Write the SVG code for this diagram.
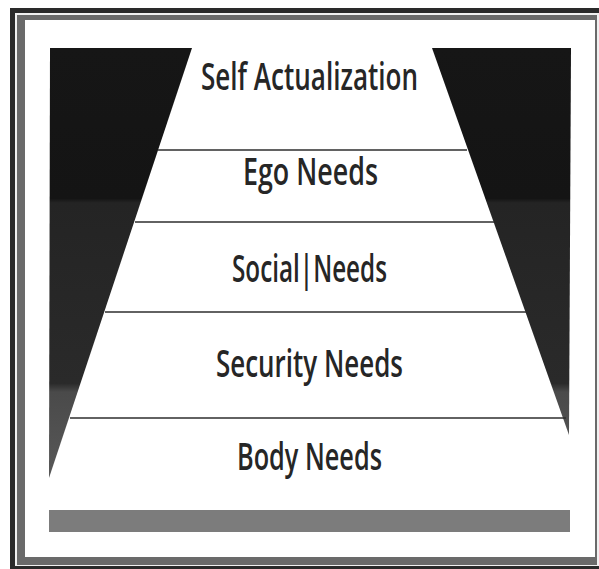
<svg xmlns="http://www.w3.org/2000/svg" width="599" height="569" viewBox="0 0 599 569">
  <style>
    .lbl { font-family: "Open Sans", "Liberation Sans", sans-serif; font-size: 37px; font-weight: 600; fill: #262626; text-anchor: start; }
    .sep { stroke: #2e2e2e; stroke-width: 1.6; fill: none; }
  </style>
  <defs>
    <linearGradient id="shade" gradientUnits="userSpaceOnUse" x1="0" y1="48" x2="0" y2="478">
      <stop offset="0" stop-color="#161616"/>
      <stop offset="0.35" stop-color="#141414"/>
      <stop offset="0.36" stop-color="#242424"/>
      <stop offset="0.78" stop-color="#2a2a2a"/>
      <stop offset="0.80" stop-color="#4a4a4a"/>
      <stop offset="1" stop-color="#585858"/>
    </linearGradient>
  </defs>
  <rect x="0" y="0" width="599" height="569" fill="#ffffff"/>
  <g id="frame">
    <rect x="10" y="8" width="589" height="561" fill="#2a2a2a"/>
    <rect x="15" y="13" width="584" height="553" fill="#f0f0f0"/>
    <rect x="17" y="15" width="580" height="550" fill="#6a6a6a"/>
    <rect x="25" y="20" width="570" height="537" fill="#ffffff"/>
  </g>
  <g id="side-shapes">
    <polygon points="50,48 192,48 49,478" fill="url(#shade)"/>
    <polygon points="432,48 571,48 569,435" fill="url(#shade)"/>
  </g>
  <g id="separators">
    <line class="sep" x1="158" y1="150" x2="467" y2="150"/>
    <line class="sep" x1="135" y1="222" x2="494" y2="222"/>
    <line class="sep" x1="105" y1="312" x2="526" y2="312"/>
    <line class="sep" x1="70" y1="418" x2="566" y2="418"/>
  </g>
  <g id="self-actualization">
    <text class="lbl" x="201" y="90" textLength="217" lengthAdjust="spacingAndGlyphs">Self Actualization</text>
  </g>
  <g id="ego-needs">
    <text class="lbl" x="243" y="185" textLength="135" lengthAdjust="spacingAndGlyphs">Ego Needs</text>
  </g>
  <g id="social-needs">
    <text class="lbl" x="232" y="282" textLength="155" lengthAdjust="spacingAndGlyphs">Social|Needs</text>
  </g>
  <g id="security-needs">
    <text class="lbl" x="216" y="377" textLength="187" lengthAdjust="spacingAndGlyphs">Security Needs</text>
  </g>
  <g id="body-needs">
    <text class="lbl" x="237" y="470" textLength="145" lengthAdjust="spacingAndGlyphs">Body Needs</text>
  </g>
  <g id="base-bar">
    <rect x="49" y="510" width="521" height="22" fill="#7c7c7c"/>
  </g>
</svg>
